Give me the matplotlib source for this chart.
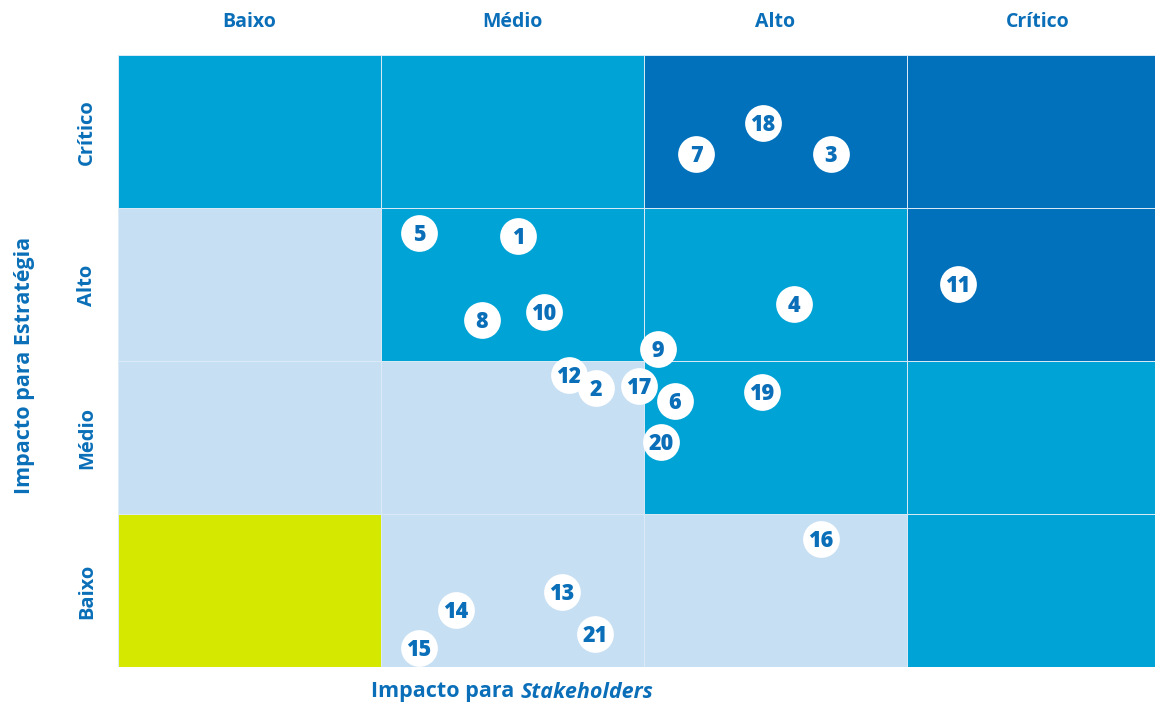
import matplotlib
matplotlib.use('Agg')
from matplotlib import pyplot as plt
from matplotlib.patches import Rectangle

plt.rcParams['font.family'] = ['Open Sans', 'DejaVu Sans']

# levels
levels = ['Baixo', 'Médio', 'Alto', 'Crítico']

# cell colour class per row (bottom -> top), per column (left -> right)
cell_class = [
    ['y', 'l', 'l', 'm'],   # Baixo
    ['l', 'l', 'm', 'm'],   # Médio
    ['l', 'm', 'm', 'd'],   # Alto
    ['m', 'm', 'd', 'd'],   # Crítico
]
colors = {'y': '#d5e800', 'l': '#c7dff3', 'm': '#00a3d6', 'd': '#0071ba'}
txt_color = '#0a6fb8'

# topics (drawing order), x = stakeholders, y = estratégia (0..4)
labels = ['18', '7', '3', '5', '1', '11', '4', '8', '10', '9', '12', '2',
          '17', '6', '19', '20', '16', '13', '14', '21', '15']
xs = [2.452, 2.198, 2.711, 1.144, 1.521, 3.194, 2.570, 1.384, 1.620, 2.053,
      1.715, 1.817, 1.981, 2.118, 2.449, 2.065, 2.673, 1.688, 1.285, 1.814, 1.144]
ys = [3.556, 3.353, 3.353, 2.837, 2.817, 2.503, 2.373, 2.268, 2.320, 2.078,
      1.908, 1.824, 1.837, 1.739, 1.797, 1.471, 0.837, 0.490, 0.373, 0.216, 0.124]

W, H = 1155, 703
fig = plt.figure(figsize=(W / 100, H / 100), dpi=100)
# axes runs a little past the right edge, like the original
ax = fig.add_axes([118 / W, (H - 667) / H, (1170 - 118) / W, 612 / H])
ax.set_xlim(0, 4)
ax.set_ylim(0, 4)
ax.axis('off')

for r in range(4):
    for c in range(4):
        ax.add_patch(Rectangle((c, r), 1, 1, facecolor=colors[cell_class[r][c]],
                               edgecolor='#dcebf7', linewidth=0.7))

for i, (lab, x, y) in enumerate(zip(labels, xs, ys)):
    ax.scatter([x], [y], s=700, color='white', zorder=10 + 2 * i, linewidths=0)
    ax.text(x, y - 0.012, lab, ha='center', va='center', color=txt_color,
            fontsize=15.5, fontweight='heavy', zorder=11 + 2 * i)

# column labels
for c, lab in enumerate(levels):
    fig.text((118 + 263 * c + 131) / W, 1 - 22 / H, lab, ha='center', va='center',
             color=txt_color, fontsize=14, fontweight='bold')
# row labels
for r, lab in enumerate(levels):
    fig.text(87 / W, (H - (667 - 153 * r - 76)) / H, lab, ha='center', va='center',
             rotation=90, color=txt_color, fontsize=14.5, fontweight='bold')

fig.text(25 / W, (H - 365) / H, 'Impacto para Estratégia', ha='center', va='center',
         rotation=90, color=txt_color, fontsize=15.5, fontweight='bold')
t1 = fig.text(371 / W, 1 - 692 / H, 'Impacto para', ha='left', va='center',
              color=txt_color, fontsize=15.5, fontweight='bold')
fig.canvas.draw()
bb = t1.get_window_extent()
fig.text((bb.x1 + 6) / W, 1 - 692 / H, 'Stakeholders', ha='left', va='center',
         color=txt_color, fontsize=15.5, fontweight='bold', style='italic')

fig.savefig('out.png', dpi=100)
